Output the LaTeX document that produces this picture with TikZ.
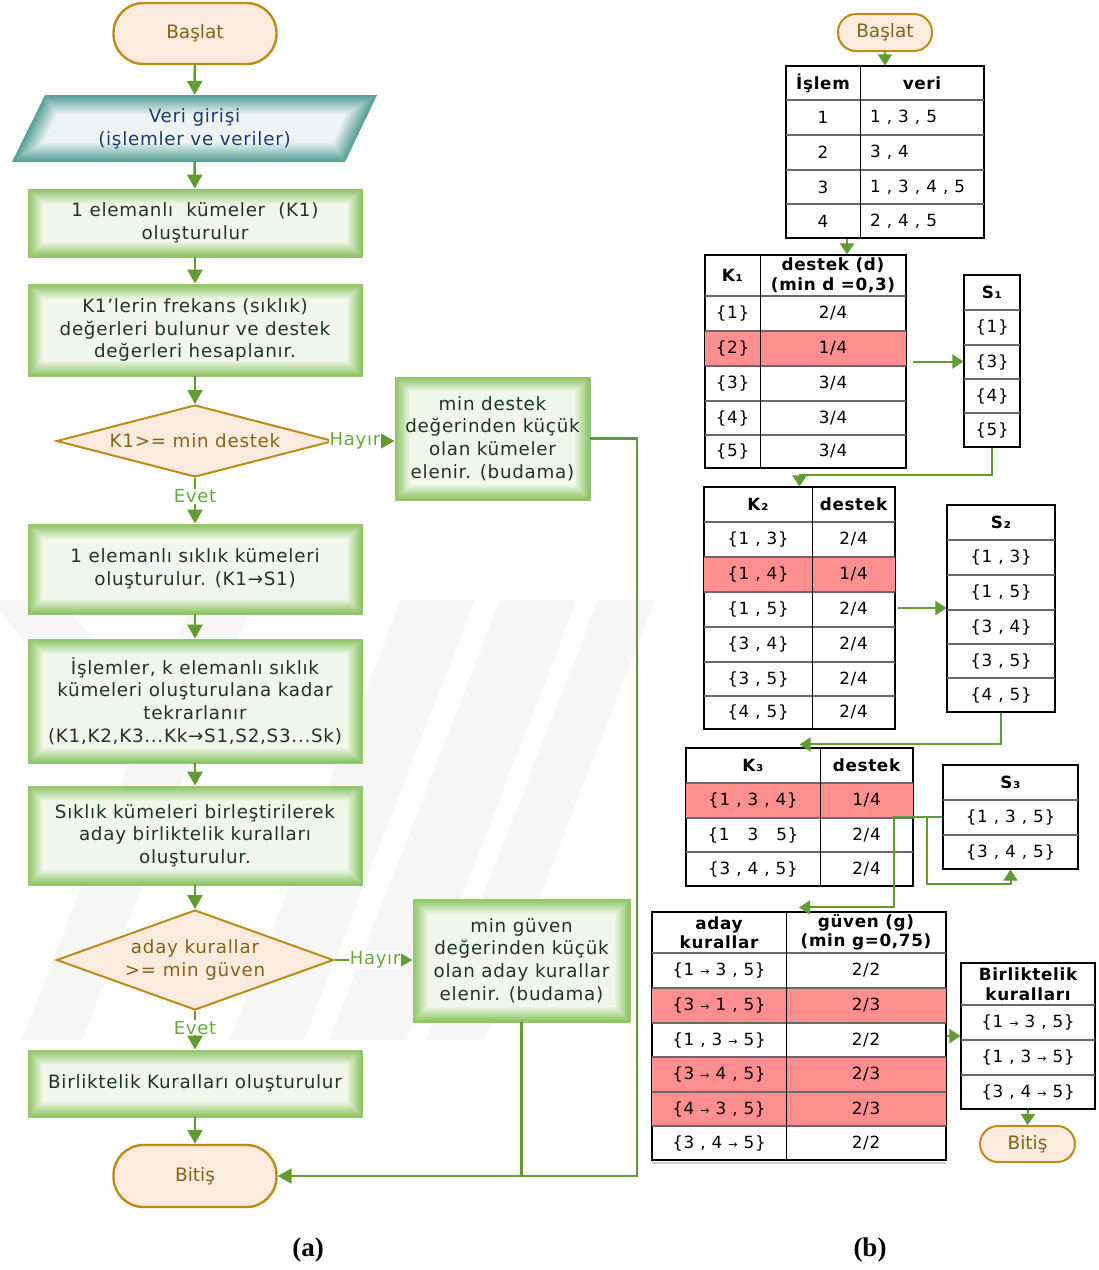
\documentclass[tikz,border=0pt]{standalone}
\usepackage{fontspec}
\setmainfont{DejaVu Sans}
\newfontfamily\flowfont[LetterSpace=4]{DejaVu Sans}
\newfontfamily\tabfont[LetterSpace=4]{DejaVu Sans}
\newfontfamily\capfont{Liberation Serif}
\usetikzlibrary{shapes.geometric,arrows.meta,calc}

\definecolor{flowgreen}{RGB}{96,156,48}
\definecolor{lblgreen}{RGB}{104,170,56}
\definecolor{termline}{RGB}{190,140,20}
\definecolor{termfill}{RGB}{250,235,222}
\definecolor{termtext}{RGB}{135,100,25}
\definecolor{glowedge}{RGB}{140,196,100}
\definecolor{glowcore}{RGB}{240,247,235}
\definecolor{boxline}{RGB}{150,200,112}
\definecolor{boxtext}{RGB}{28,56,28}
\definecolor{pedge}{RGB}{86,160,150}
\definecolor{pcore}{RGB}{236,244,243}
\definecolor{ptext}{RGB}{30,58,110}
\definecolor{rowred}{RGB}{255,143,143}
\definecolor{gridgray}{RGB}{105,105,105}
\definecolor{markgray}{RGB}{246,246,246}

% soft green inner glow for the process boxes
\newcommand{\boxglow}{%
  \foreach \k in {0,...,15}{%
    \pgfmathtruncatemacro\p{\k*100/15}%
    \fill[glowcore!\p!glowedge]
      ([shift={(\k*1pt,\k*1pt)}]path picture bounding box.south west) rectangle
      ([shift={(-\k*1pt,-\k*1pt)}]path picture bounding box.north east);
  }}
% table helpers: inner row line, highlighted row, outer frame
\newcommand{\srow}[3]{\draw[tinner] (#1,-#3) -- (#2,-#3);}
\newcommand{\redband}[4]{\fill[rowred] (#1,-#3) rectangle (#2,-#4);}
\newcommand{\tborder}[1]{\draw[line width=1.1pt] (#1.south west) rectangle (#1.north east);}
\newcommand{\rto}{\ {\fontsize{11}{11}\selectfont →}\ }

\begin{document}
\begin{tikzpicture}[x=1pt,y=1pt,
  flow/.style={draw=flowgreen,line width=2.6pt,-{Triangle[length=14pt,width=15pt]}},
  flowline/.style={draw=flowgreen,line width=2.6pt},
  sflow/.style={draw=flowgreen,line width=2pt,-{Triangle[length=11pt,width=14pt]}},
  terminal/.style={draw=termline,line width=2.4pt,fill=termfill,rounded corners=30pt,
    minimum width=163pt,minimum height=61pt,inner sep=0pt,text=termtext,
    font=\fontsize{18.5}{22}\selectfont},
  sterminal/.style={terminal,line width=2pt,rounded corners=18pt,minimum width=94pt,minimum height=37pt},
  gbox/.style={draw=boxline,line width=0.8pt,inner sep=0pt,align=center,text=boxtext,
    font=\flowfont\fontsize{18.3}{22.7}\selectfont,path picture={\boxglow}},
  decision/.style={diamond,draw=termline,line width=2pt,fill=termfill,inner sep=0pt,
    align=center,text=termtext,font=\flowfont\fontsize{18.3}{22.7}\selectfont,minimum width=277pt},
  lbl/.style={text=lblgreen,fill=white,inner sep=1pt,font=\flowfont\fontsize{18}{20}\selectfont},
  tframe/.style={draw=black,line width=1.1pt,fill=white,inner sep=0pt},
  tinner/.style={draw=gridgray,line width=1.1pt},
  tvert/.style={draw=black,line width=1pt},
  cell/.style={inner sep=0pt,text=black,font=\tabfont\fontsize{16.8}{19}\selectfont},
  hcell/.style={inner sep=0pt,align=center,text=black,font=\tabfont\bfseries\fontsize{16.8}{19.5}\selectfont},
]
\useasboundingbox (0,0) rectangle (1099,-1270);
\fill[white] (0,0) rectangle (1099,-1270);

% faint watermark stripes
\fill[markgray] (193,-600) -- (253,-600) -- (82,-1040) -- (22,-1040) -- cycle;
\fill[markgray] (401,-600) -- (475,-600) -- (304,-1040) -- (230,-1040) -- cycle;
\fill[markgray] (500,-600) -- (577,-600) -- (406,-1040) -- (329,-1040) -- cycle;
\fill[markgray] (598,-600) -- (655,-600) -- (484,-1040) -- (427,-1040) -- cycle;
\fill[markgray] (-10,-600) -- (60,-600) -- (160,-720) -- (90,-720) -- cycle;

% ---------------- (a) flowchart ----------------
\node[terminal] (start) at (195,-33.5) {Başlat};

% data input parallelogram with teal glow
\foreach \k in {0,...,16}{
  \pgfmathsetmacro\d{\k*1.2}
  \pgfmathtruncatemacro\p{\k*100/16}
  \fill[pcore!\p!pedge] ({12+1.607*\d},{-162+\d}) -- ({345-0.622*\d},{-162+\d})
    -- ({377-1.607*\d},{-95-\d}) -- ({45+0.622*\d},{-95-\d}) -- cycle;
}
\node[minimum width=300pt,minimum height=67pt,inner sep=0pt,align=center,text=ptext,
  font=\flowfont\fontsize{18.3}{22.7}\selectfont] (input) at (194.5,-128.5)
  {Veri girişi\\(işlemler ve veriler)};

\node[gbox,minimum width=334pt,minimum height=68pt] (k1) at (195,-223)
  {1 elemanlı\ \ kümeler\ \ (K1)\\oluşturulur};
\node[gbox,minimum width=334pt,minimum height=92pt] (freq) at (195,-330)
  {K1’lerin frekans (sıklık)\\değerleri bulunur ve destek\\değerleri hesaplanır.};
\node[decision,minimum height=72pt,shape aspect=3.85] (q1) at (195,-441) {K1>= min destek};
\node[gbox,minimum width=195pt,minimum height=123pt] (prune1) at (492.5,-438.5)
  {min destek\\değerinden küçük\\olan kümeler\\elenir. (budama)};
\node[gbox,minimum width=334pt,minimum height=90pt] (s1) at (195,-569)
  {1 elemanlı sıklık kümeleri\\oluşturulur. (K1→S1)};
\node[gbox,minimum width=334pt,minimum height=124pt] (iter) at (195,-701)
  {İşlemler, k elemanlı sıklık\\kümeleri oluşturulana kadar\\tekrarlanır\\(K1,K2,K3...Kk→S1,S2,S3...Sk)};
\node[gbox,minimum width=334pt,minimum height=99pt] (merge) at (195,-835.5)
  {Sıklık kümeleri birleştirilerek\\aday birliktelik kuralları\\oluşturulur.};
\node[decision,minimum height=100pt,shape aspect=2.77] (q2) at (195,-960)
  {aday kurallar\\>= min güven};
\node[gbox,minimum width=217pt,minimum height=123pt] (prune2) at (521.5,-960.5)
  {min güven\\değerinden küçük\\olan aday kurallar\\elenir. (budama)};
\node[gbox,minimum width=334pt,minimum height=67pt] (rules) at (195,-1083.5)
  {Birliktelik Kuralları oluşturulur};
\node[terminal,minimum height=62pt] (stop) at (195,-1176) {Bitiş};

\draw[flow] (start) -- (input);
\draw[flow] (input) -- (k1);
\draw[flow] (k1) -- (freq);
\draw[flow] (freq) -- (q1);
\draw[flow] (q1.east) -- node[lbl,pos=0.34] {Hayır} (q1.east -| prune1.west);
\draw[flow] (q1.south) -- node[lbl,pos=0.4] {Evet} (s1.north);
\draw[flow] (s1) -- (iter);
\draw[flow] (iter) -- (merge);
\draw[flow] (merge) -- (q2);
\draw[flow] (q2.east) -- node[lbl,pos=0.52] {Hayır} (q2.east -| prune2.west);
\draw[flow] (q2.south) -- node[lbl,pos=0.43] {Evet} (rules.north);
\draw[flow] (rules) -- (stop);
\coordinate (back) at (637,-438.5);
\draw[flow] (prune1.east) -- (back) |- (stop.east);
\draw[flowline] (prune2.south) -- (prune2.south |- stop.east);

% ---------------- (b) worked example ----------------
\node[sterminal] (start2) at (885,-32.5) {Başlat};

% transactions
\node[tframe,minimum width=198pt,minimum height=172pt] (data) at (885,-152) {};
\srow{786}{984}{100}\srow{786}{984}{135}\srow{786}{984}{170}\srow{786}{984}{204}
\draw[tvert] (860,-66) -- (860,-238);
\tborder{data}
\node[hcell] (h-islem) at (823,-83) {İşlem};
\node[hcell] (h-veri) at (922,-83) {veri};
\node[cell] (t-1) at (823,-117.5) {1};
\node[cell] (t-2) at (823,-152.5) {2};
\node[cell] (t-3) at (823,-187) {3};
\node[cell] (t-4) at (823,-221) {4};
\node[cell,anchor=west] (v-1) at (870,-117.5) {1 , 3 , 5};
\node[cell,anchor=west] (v-2) at (870,-152.5) {3 , 4};
\node[cell,anchor=west] (v-3) at (870,-187) {1 , 3 , 4 , 5};
\node[cell,anchor=west] (v-4) at (870,-221) {2 , 4 , 5};

% candidate 1-itemsets
\node[tframe,minimum width=201pt,minimum height=213pt] (kone) at (805.5,-361.5) {};
\redband{705}{906}{331}{366}
\srow{705}{906}{296}\srow{705}{906}{331}\srow{705}{906}{366}\srow{705}{906}{401}\srow{705}{906}{435}
\draw[tvert] (760,-255) -- (760,-468);
\tborder{kone}
\node[hcell] (h-k1) at (732.5,-275.5) {K₁};
\node[hcell] (h-d1) at (833,-275.5) {destek (d)\\(min d =0,3)};
\node[cell] (a1-1) at (732.5,-313.5) {\{1\}};  \node[cell] (b1-1) at (833,-313.5) {2/4};
\node[cell] (a1-2) at (732.5,-348.5) {\{2\}};  \node[cell] (b1-2) at (833,-348.5) {1/4};
\node[cell] (a1-3) at (732.5,-383.5) {\{3\}};  \node[cell] (b1-3) at (833,-383.5) {3/4};
\node[cell] (a1-4) at (732.5,-418) {\{4\}};    \node[cell] (b1-4) at (833,-418) {3/4};
\node[cell] (a1-5) at (732.5,-451.5) {\{5\}};  \node[cell] (b1-5) at (833,-451.5) {3/4};

% frequent 1-itemsets
\node[tframe,minimum width=56pt,minimum height=172pt] (sone) at (992,-361) {};
\srow{964}{1020}{310}\srow{964}{1020}{345}\srow{964}{1020}{379}\srow{964}{1020}{413}
\tborder{sone}
\node[hcell] (h-s1) at (992,-292.5) {S₁};
\node[cell] (c1-1) at (992,-327.5) {\{1\}};
\node[cell] (c1-2) at (992,-362) {\{3\}};
\node[cell] (c1-3) at (992,-396) {\{4\}};
\node[cell] (c1-4) at (992,-430) {\{5\}};

% candidate 2-itemsets
\node[tframe,minimum width=191pt,minimum height=242pt] (ktwo) at (799.5,-608) {};
\redband{704}{895}{557}{592}
\srow{704}{895}{522}\srow{704}{895}{557}\srow{704}{895}{592}\srow{704}{895}{627}\srow{704}{895}{662}\srow{704}{895}{696}
\draw[tvert] (812,-487) -- (812,-729);
\tborder{ktwo}
\node[hcell] (h-k2) at (758,-504.5) {K₂};
\node[hcell] (h-d2) at (853.5,-504.5) {destek};
\node[cell] (a2-1) at (758,-539.5) {\{1 , 3\}}; \node[cell] (b2-1) at (853.5,-539.5) {2/4};
\node[cell] (a2-2) at (758,-574.5) {\{1 , 4\}}; \node[cell] (b2-2) at (853.5,-574.5) {1/4};
\node[cell] (a2-3) at (758,-609.5) {\{1 , 5\}}; \node[cell] (b2-3) at (853.5,-609.5) {2/4};
\node[cell] (a2-4) at (758,-644.5) {\{3 , 4\}}; \node[cell] (b2-4) at (853.5,-644.5) {2/4};
\node[cell] (a2-5) at (758,-679) {\{3 , 5\}};   \node[cell] (b2-5) at (853.5,-679) {2/4};
\node[cell] (a2-6) at (758,-712.5) {\{4 , 5\}}; \node[cell] (b2-6) at (853.5,-712.5) {2/4};

% frequent 2-itemsets
\node[tframe,minimum width=108pt,minimum height=207pt] (stwo) at (1001,-608.5) {};
\srow{947}{1055}{540}\srow{947}{1055}{575}\srow{947}{1055}{610}\srow{947}{1055}{644}\srow{947}{1055}{678}
\tborder{stwo}
\node[hcell] (h-s2) at (1001,-522.5) {S₂};
\node[cell] (c2-1) at (1001,-557.5) {\{1 , 3\}};
\node[cell] (c2-2) at (1001,-592.5) {\{1 , 5\}};
\node[cell] (c2-3) at (1001,-627) {\{3 , 4\}};
\node[cell] (c2-4) at (1001,-661) {\{3 , 5\}};
\node[cell] (c2-5) at (1001,-695) {\{4 , 5\}};

% candidate 3-itemsets
\node[tframe,minimum width=227pt,minimum height=138pt] (kthree) at (799.5,-817) {};
\redband{686}{913}{783}{818}
\srow{686}{913}{783}\srow{686}{913}{818}\srow{686}{913}{852}
\draw[tvert] (820,-748) -- (820,-886);
\tborder{kthree}
\node[hcell] (h-k3) at (753,-765.5) {K₃};
\node[hcell] (h-d3) at (866.5,-765.5) {destek};
\node[cell] (a3-1) at (753,-800.5) {\{1 , 3 , 4\}}; \node[cell] (b3-1) at (866.5,-800.5) {1/4};
\node[cell] (a3-2) at (753,-835) {\{1\ \ \ 3\ \ \ 5\}}; \node[cell] (b3-2) at (866.5,-835) {2/4};
\node[cell] (a3-3) at (753,-869) {\{3 , 4 , 5\}}; \node[cell] (b3-3) at (866.5,-869) {2/4};

% frequent 3-itemsets
\node[tframe,minimum width=135pt,minimum height=104pt] (sthree) at (1010.5,-817) {};
\srow{943}{1078}{800}\srow{943}{1078}{835}
\tborder{sthree}
\node[hcell] (h-s3) at (1010.5,-782.5) {S₃};
\node[cell] (c3-1) at (1010.5,-817.5) {\{1 , 3 , 5\}};
\node[cell] (c3-2) at (1010.5,-852) {\{3 , 4 , 5\}};

% candidate rules
\node[tframe,minimum width=294pt,minimum height=248pt] (cand) at (799,-1036) {};
\redband{652}{946}{988}{1023}\redband{652}{946}{1057}{1126}
\srow{652}{946}{953}\srow{652}{946}{988}\srow{652}{946}{1023}\srow{652}{946}{1057}\srow{652}{946}{1092}\srow{652}{946}{1126}
\draw[tvert] (786,-912) -- (786,-1160);
\tborder{cand}
\draw[gray!40,line width=1.5pt] (652,-1163) -- (946,-1163);
\node[hcell] (h-ar) at (719,-932.5) {aday\\kurallar};
\node[hcell] (h-g) at (866,-932.5) {güven (g)\\(min g=0,75)};
\node[cell] (r-1) at (719,-970.5) {\{1\rto 3 , 5\}}; \node[cell] (g-1) at (866,-970.5) {2/2};
\node[cell] (r-2) at (719,-1005.5) {\{3\rto 1 , 5\}}; \node[cell] (g-2) at (866,-1005.5) {2/3};
\node[cell] (r-3) at (719,-1040) {\{1 , 3\rto 5\}}; \node[cell] (g-3) at (866,-1040) {2/2};
\node[cell] (r-4) at (719,-1074.5) {\{3\rto 4 , 5\}}; \node[cell] (g-4) at (866,-1074.5) {2/3};
\node[cell] (r-5) at (719,-1109) {\{4\rto 3 , 5\}}; \node[cell] (g-5) at (866,-1109) {2/3};
\node[cell] (r-6) at (719,-1143) {\{3 , 4\rto 5\}}; \node[cell] (g-6) at (866,-1143) {2/2};

% accepted association rules
\node[tframe,minimum width=134pt,minimum height=146pt] (brules) at (1028,-1036) {};
\srow{961}{1095}{1005}\srow{961}{1095}{1040}\srow{961}{1095}{1075}
\tborder{brules}
\node[hcell] (h-br) at (1028,-984) {Birliktelik\\kuralları};
\node[cell] (f-1) at (1028,-1022.5) {\{1\rto 3 , 5\}};
\node[cell] (f-2) at (1028,-1057.5) {\{1 , 3\rto 5\}};
\node[cell] (f-3) at (1028,-1092) {\{3 , 4\rto 5\}};

\node[sterminal,minimum width=95pt,minimum height=36pt] (stop2) at (1027.5,-1144) {Bitiş};

% connectors of the example
\draw[sflow] (start2.south) -- (data.north);
\draw[sflow] ([xshift=-38pt]data.south) -- ([xshift=-38pt]data.south |- kone.north);
\draw[sflow,shorten <=6pt] (kone.east) -- (kone.east -| sone.west);
\draw[sflow] (sone.south) |- ([yshift=11pt]ktwo.north) -- (ktwo.north);
\draw[sflow,shorten <=2pt] (ktwo.east) -- (ktwo.east -| stwo.west);
\draw[sflow] (stwo.south) |- ([yshift=3pt]kthree.north);
\coordinate (jn) at (894,-817);
\coordinate (jb) at (927,-817);
\draw[sflow] (sthree.west) -- (jn) |- ([yshift=4pt]cand.north);
\draw[sflow] (jb) |- ([yshift=-14pt]sthree.south) -- (sthree.south);
\draw[sflow] (cand.east) -- (brules.west);
\draw[sflow] (brules.south) -- (stop2.north);

% captions
\node[font=\capfont\bfseries\fontsize{27}{30}\selectfont] (capa) at (308,-1250) {(a)};
\node[font=\capfont\bfseries\fontsize{27}{30}\selectfont] (capb) at (870,-1250) {(b)};
\end{tikzpicture}
\end{document}
